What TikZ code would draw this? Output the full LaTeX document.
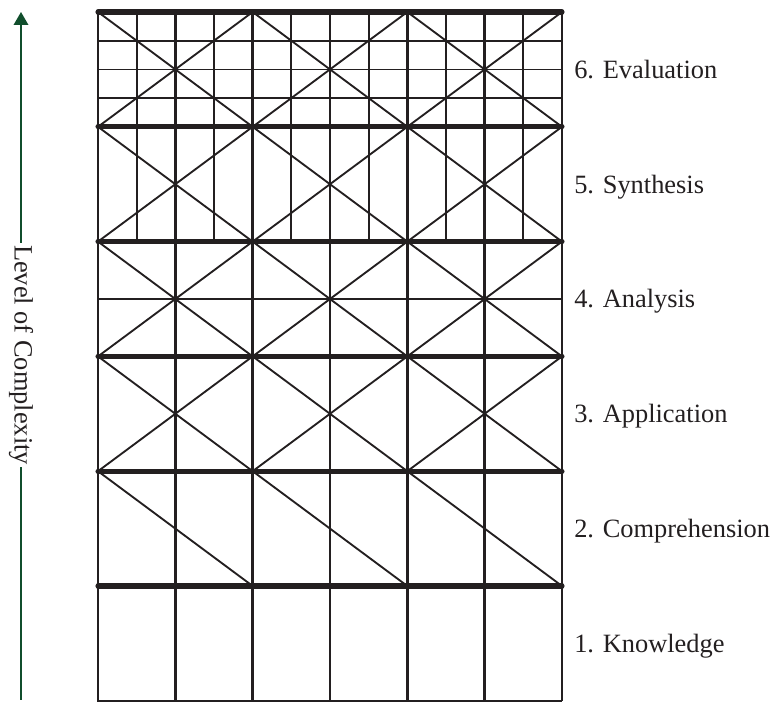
\documentclass[tikz,border=0pt]{standalone}
\usepackage{fontspec}
\setmainfont{Liberation Serif}
\usetikzlibrary{arrows.meta}
\definecolor{ink}{RGB}{35,31,32}
\definecolor{axisgreen}{RGB}{16,78,44}
\tikzset{
  mainrule/.style={draw=ink, line width=3.8pt, line cap=round},
  baserule/.style={draw=ink, line width=1.4pt},
  colline/.style={draw=ink, line width=2pt},
  halfcol/.style={draw=ink, line width=1.6pt},
  crossline/.style={draw=ink, line width=1.4pt},
  subrule/.style={draw=ink, line width=1.3pt},
  lvllabel/.style={anchor=base west, inner sep=0pt, text=ink,
    font=\fontsize{19.8}{23}\selectfont},
  axislabel/.style={rotate=-90, inner sep=1.5pt, text=ink,
    font=\fontsize{19.8}{23}\selectfont},
  axisarr/.style={draw=axisgreen, line width=1pt, -{Triangle[length=9.75pt, width=11pt]}},
  axisline/.style={draw=axisgreen, line width=1pt}
}
\def\colw{77.33}
\def\lvlh{114.8}

\begin{document}
\begin{tikzpicture}[x=0.75pt, y=-0.75pt]
  \useasboundingbox (0,0) rectangle (776,702);

  \foreach \i in {0,...,6}
    \draw[colline] ({98+\i*\colw},12) -- ({98+\i*\colw},700.8);
  \foreach \i in {0,...,5}
    \draw[halfcol] ({98+(\i+0.5)*\colw},12) -- ({98+(\i+0.5)*\colw},{12+2*\lvlh});

  \foreach \j in {1,2,3}
    \draw[subrule] (98,{12+\j*\lvlh/4}) -- (562,{12+\j*\lvlh/4});
  \draw[subrule] (98,{12+2.5*\lvlh}) -- (562,{12+2.5*\lvlh});

  \foreach \r in {0,...,3}
    \foreach \p in {0,1,2} {
      \draw[crossline] ({98+2*\p*\colw},{12+\r*\lvlh}) -- ({98+(2*\p+2)*\colw},{12+(\r+1)*\lvlh});
      \draw[crossline] ({98+(2*\p+2)*\colw},{12+\r*\lvlh}) -- ({98+2*\p*\colw},{12+(\r+1)*\lvlh});
    }
  \foreach \p in {0,1,2}
    \draw[crossline] ({98+2*\p*\colw},{12+4*\lvlh}) -- ({98+(2*\p+2)*\colw},{12+5*\lvlh});

  \foreach \r in {0,...,5}
    \draw[mainrule] (98,{12+\r*\lvlh}) -- (562,{12+\r*\lvlh});
  \draw[baserule] (97,700.8) -- (562,700.8);

  \foreach \k/\txt in {6/Evaluation, 5/Synthesis, 4/Analysis,
                       3/Application, 2/Comprehension, 1/Knowledge}
    \node[lvllabel] (lvl\k) at (574,{12+(6-\k+0.5)*\lvlh+9}) {\k. \txt};

  \node[axislabel] (axislbl) at (21,355) {Level of Complexity};
  \coordinate (axtop) at (21,12);
  \coordinate (axbot) at (21,700.5);
  \draw[axisarr] (axislbl.west) -- (axtop);
  \draw[axisline] (axislbl.east) -- (axbot);
\end{tikzpicture}
\end{document}
